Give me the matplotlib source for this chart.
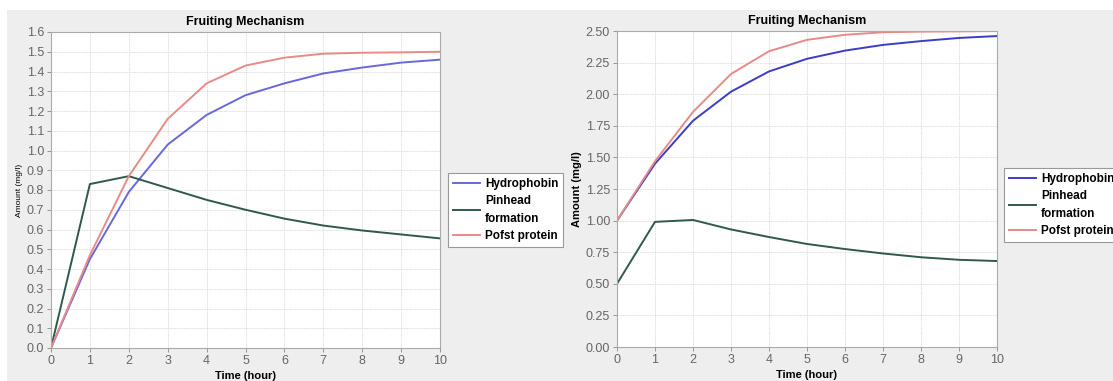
import matplotlib.pyplot as plt
from matplotlib.patches import Rectangle

# Time points (hours)
time = [0, 1, 2, 3, 4, 5, 6, 7, 8, 9, 10]

# Left chart values (mg/l)
hydro_left = [0.0, 0.45, 0.79, 1.03, 1.18, 1.28, 1.34, 1.39, 1.42, 1.445, 1.46]
pinhead_left = [0.0, 0.83, 0.87, 0.81, 0.75, 0.70, 0.655, 0.62, 0.595, 0.575, 0.555]
pofst_left = [0.0, 0.47, 0.87, 1.16, 1.34, 1.43, 1.47, 1.49, 1.495, 1.497, 1.50]

# Right chart values (mg/l)
hydro_right = [1.0, 1.45, 1.79, 2.02, 2.18, 2.28, 2.345, 2.39, 2.42, 2.445, 2.46]
pinhead_right = [0.5, 0.99, 1.005, 0.93, 0.87, 0.815, 0.775, 0.74, 0.71, 0.69, 0.68]
pofst_right = [1.0, 1.47, 1.86, 2.16, 2.34, 2.43, 2.47, 2.49, 2.495, 2.497, 2.50]

series_names = ['Hydrophobin', 'Pinhead\nformation', 'Pofst protein']

W, H = 1113, 381
fig = plt.figure(figsize=(W / 100, H / 100), dpi=100, facecolor='white')
plt.rcParams['font.family'] = ['Liberation Sans', 'DejaVu Sans']

# gray panel background, kept behind the axes
bg = Rectangle((7 / W, 0), 1 - 7 / W, 1 - 10 / H, transform=fig.transFigure,
               facecolor='#eeeeee', edgecolor='none', zorder=-10)
fig.add_artist(bg)


def draw_panel(rect, hydro, pinhead, pofst, ymax, ystep, fmt, ylab_size, ylab_bold,
               colors, legend_pos):
    ax = fig.add_axes(rect)
    ax.set_facecolor('white')
    ax.plot(time, hydro, color=colors[0], lw=1.4, label=series_names[0])
    ax.plot(time, pinhead, color=colors[1], lw=1.4, label=series_names[1])
    ax.plot(time, pofst, color=colors[2], lw=1.4, label=series_names[2])
    ax.set_xlim(0, 10)
    ax.set_ylim(0, ymax)
    ax.set_xticks(time)
    yt = [i * ystep for i in range(int(round(ymax / ystep)) + 1)]
    ax.set_yticks(yt)
    ax.set_yticklabels([fmt.format(v) for v in yt])
    ax.grid(True, color='#dddddd', lw=0.6, ls=(0, (2, 1)))
    ax.set_axisbelow(True)
    for s in ax.spines.values():
        s.set_color('#aaaaaa')
        s.set_linewidth(0.8)
    ax.tick_params(colors='#888888', labelcolor='#666666', labelsize=9,
                   length=3, width=0.6, pad=2)
    ax.set_title('Fruiting Mechanism', fontsize=9, fontweight='bold', pad=5)
    ax.set_xlabel('Time (hour)', fontsize=8, fontweight='bold', labelpad=3)
    ax.set_ylabel('Amount (mg/l)', fontsize=ylab_size,
                  fontweight='bold' if ylab_bold else 'normal', labelpad=3)
    leg = ax.legend(loc='center left', bbox_to_anchor=legend_pos,
                    bbox_transform=fig.transFigure, fontsize=8.5,
                    frameon=True, fancybox=False, handlelength=2.3,
                    handletextpad=0.45, borderpad=0.4, borderaxespad=0,
                    labelspacing=0.45, framealpha=1)
    leg.get_frame().set_edgecolor('#999999')
    leg.get_frame().set_linewidth(0.8)
    for t in leg.get_texts():
        t.set_fontweight('bold')
        t.set_linespacing(1.6)
    return ax


draw_panel([51 / W, 1 - 348 / H, (440 - 51) / W, (348 - 32) / H],
           hydro_left, pinhead_left, pofst_left, 1.6, 0.1, '{:.1f}', 6, False,
           ['#6868dd', '#2f5a4a', '#e88a88'], (448 / W, 1 - 210 / H))

draw_panel([617 / W, 1 - 347 / H, (997 - 617) / W, (347 - 31) / H],
           hydro_right, pinhead_right, pofst_right, 2.5, 0.25, '{:.2f}', 8, True,
           ['#3c3cc8', '#2f5a4a', '#e88a88'], (1004 / W, 1 - 205 / H))

fig.savefig('out.png', dpi=100, facecolor=fig.get_facecolor())
